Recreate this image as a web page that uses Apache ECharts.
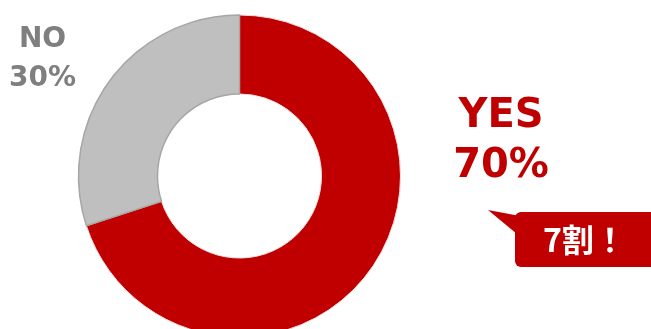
<!DOCTYPE html>
<html><head><meta charset="utf-8">
<script src="https://cdn.jsdelivr.net/npm/echarts@6/dist/echarts.min.js"></script>
<style>html,body{margin:0;padding:0;background:#fff}#c{width:651px;height:329px}</style>
</head><body><div id="c"></div>
<script>
var categories = ['YES', 'NO'];
var values = [70, 30];
var calloutText = '7割！';

var chart = echarts.init(document.getElementById('c'), null, {renderer: 'canvas'});
var colors = ['#c00000', '#bfbfbf'];
var labelColors = ['#c00000', '#7f7f7f'];
var labelPos = [
  {x: 501, y: 142, fontSize: 40, lineHeight: 50},
  {x: 42.5, y: 59.5, fontSize: 28, lineHeight: 39}
];
chart.setOption({
  animation: false,
  series: [{
    type: 'pie',
    center: [239.5, 176],
    radius: [82, 161],
    startAngle: 90,
    clockwise: true,
    avoidLabelOverlap: false,
    labelLine: {show: false},
    data: categories.map(function (c, i) {
      var lp = labelPos[i];
      return {
        name: c, value: values[i],
        itemStyle: {color: colors[i], borderColor: i === 0 ? '#f2dede' : '#a6a6a6', borderWidth: i === 0 ? 1 : 1.5},
        label: {
          show: true, position: 'outside',
          formatter: '{b}\n{d}%',
          color: labelColors[i], fontSize: lp.fontSize, lineHeight: lp.lineHeight,
          fontWeight: 'bold', fontFamily: 'DejaVu Sans', align: 'center'
        }
      };
    }),
    labelLayout: function (p) {
      var lp = labelPos[p.dataIndex];
      return {x: lp.x, y: lp.y, align: 'center', verticalAlign: 'middle'};
    }
  }],
  graphic: [
    {type: 'polygon', shape: {points: [[488, 210], [520, 216], [517, 234]]}, style: {fill: '#c00000'}},
    {type: 'rect', shape: {x: 515, y: 212, width: 150, height: 55, r: 6}, style: {fill: '#c00000'}},
    {type: 'text', x: 543, y: 240, style: {text: calloutText, fill: '#fff', fontSize: 32, fontWeight: 'bold', fontFamily: 'Noto Sans CJK JP', align: 'left', verticalAlign: 'middle'}}
  ]
});
</script></body></html>
